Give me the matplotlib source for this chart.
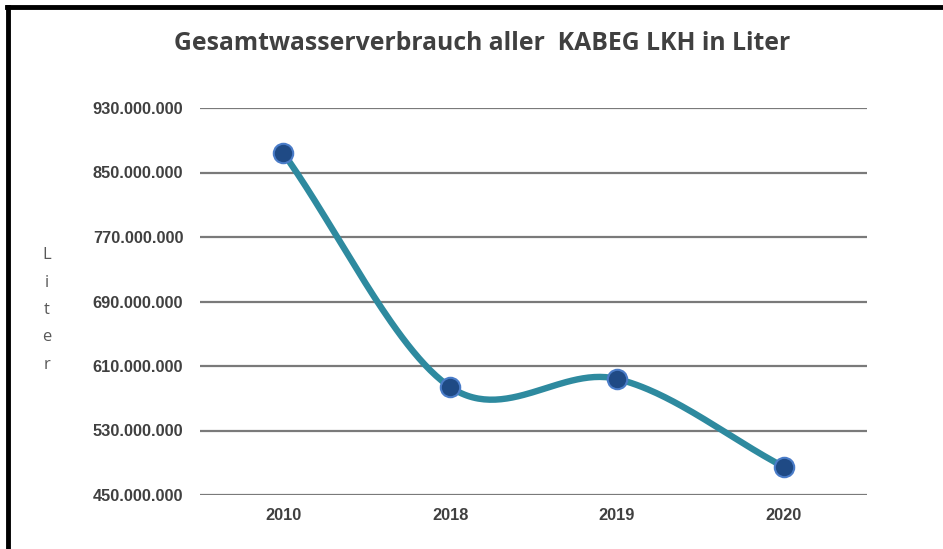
import numpy as np
import matplotlib
matplotlib.use("Agg")
import matplotlib.pyplot as plt
from matplotlib.ticker import FuncFormatter

# data
jahre = ["2010", "2018", "2019", "2020"]
verbrauch = [874000000, 584000000, 594000000, 485000000]
y_ticks = [450000000, 530000000, 610000000, 690000000, 770000000, 850000000, 930000000]


def catmull_rom(x, y, n=60, t=0.5):
    # smooth curve through points, similar to office "smoothed line"
    x = np.asarray(x, float)
    y = np.asarray(y, float)
    px = np.concatenate([[2 * x[0] - x[1]], x, [2 * x[-1] - x[-2]]])
    py = np.concatenate([[2 * y[0] - y[1]], y, [2 * y[-1] - y[-2]]])
    xs, ys = [], []
    for i in range(1, len(px) - 2):
        s = np.linspace(0, 1, n)
        for arr, out in ((px, xs), (py, ys)):
            p0, p1, p2, p3 = arr[i - 1], arr[i], arr[i + 1], arr[i + 2]
            m1 = t * (p2 - p0)
            m2 = t * (p3 - p1)
            h00 = 2 * s**3 - 3 * s**2 + 1
            h10 = s**3 - 2 * s**2 + s
            h01 = -2 * s**3 + 3 * s**2
            h11 = s**3 - s**2
            out.extend(h00 * p1 + h10 * m1 + h01 * p2 + h11 * m2)
    return np.array(xs), np.array(ys)


fig = plt.figure(figsize=(9.43, 5.49), dpi=100)
ax = fig.add_axes([200 / 943, 1 - 495 / 549, 667 / 943, 387 / 549])

xpos = np.arange(len(jahre))
sx, sy = catmull_rom(xpos, verbrauch)
ax.plot(sx, sy, color="#2E8A9F", lw=4.6, solid_capstyle="round", zorder=3)
ax.plot(xpos, verbrauch, ls="none", marker="o", ms=14, mfc="#1F4A85",
        mec="#4A7CC8", mew=1.5, zorder=4)

ax.set_xlim(-0.5, len(jahre) - 0.5)
ax.set_ylim(450000000, 930000000)
ax.set_yticks(y_ticks)
ax.yaxis.set_major_formatter(FuncFormatter(lambda v, p: f"{int(v):,}".replace(",", ".")))
ax.set_xticks(xpos)
ax.set_xticklabels(jahre)
ax.grid(axis="y", color="#7a7a7a", lw=1.6)
ax.set_axisbelow(True)
for s in ax.spines.values():
    s.set_visible(False)
ax.tick_params(length=0, labelsize=11.8, labelcolor="#404040")
ax.tick_params(axis="y", pad=12)
ax.tick_params(axis="x", pad=9)
for lab in ax.get_xticklabels() + ax.get_yticklabels():
    lab.set_fontfamily("Liberation Sans")
    lab.set_fontweight("bold")

fig.text(0.511, 1 - 43 / 549, "Gesamtwasserverbrauch aller  KABEG LKH in Liter",
         ha="center", va="center", fontsize=17.8, fontweight="bold",
         color="#404040", family="Open Sans")
fig.text(47 / 943, 1 - 310 / 549, "L\ni\nt\ne\nr", ha="center", va="center",
         fontsize=12, color="#595959", linespacing=1.95, family="Open Sans")

# black frame on left and top
fig.add_artist(plt.Line2D([8 / 943, 8 / 943], [0, 1 - 7 / 549], color="black", lw=3.5,
                          transform=fig.transFigure))
fig.add_artist(plt.Line2D([6.5 / 943, 1], [1 - 7 / 549, 1 - 7 / 549], color="black", lw=3.5,
                          transform=fig.transFigure))

fig.savefig("out.png", dpi=100)
